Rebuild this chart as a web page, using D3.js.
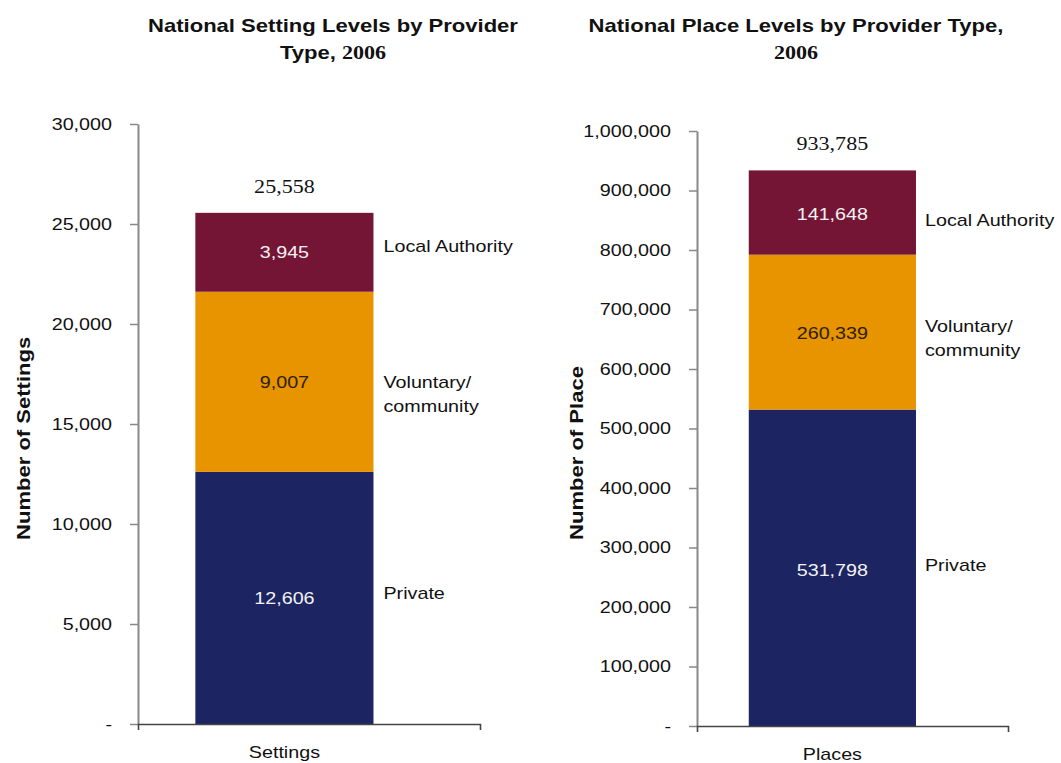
<!DOCTYPE html>
<html>
<head>
<meta charset="utf-8">
<script src="https://cdn.jsdelivr.net/npm/d3@7"></script>
<style>
  body { margin: 0; background: #fff; }
  text { font-family: "Liberation Sans", Arial, sans-serif; fill: #111; }
</style>
</head>
<body>
<script>
// data
var providerTypes = ["Private", "Voluntary/community", "Local Authority"];
var providerLabels = [["Private"], ["Voluntary/", "community"], ["Local Authority"]];
var settingsValues = [12606, 9007, 3945];
var placesValues = [531798, 260339, 141648];
var settingsTicks = [0, 5000, 10000, 15000, 20000, 25000, 30000];
var placesTicks = [0, 100000, 200000, 300000, 400000, 500000, 600000, 700000, 800000, 900000, 1000000];
var colors = ["#1c2461", "#e89300", "#741536"];
var valueColors = ["#f2f2f2", "#2a2100", "#f2f2f2"];

var S = 1.16; // the source text is drawn wider than Arial
var fmt = d3.format(",");

var svg = d3.select("body").append("svg")
    .attr("width", 1061)
    .attr("height", 763);

function drawChart(c){
  var g = svg.append("g");
  var y = d3.scaleLinear().domain([0, d3.max(c.ticks)]).range([c.bottom, c.top]);
  var x = d3.scaleBand().domain([c.category]).range([c.left, c.right])
      .paddingInner(0).paddingOuter(c.padOuter).align(c.align);
  var bw = x.bandwidth();
  var cx = x(c.category) + bw / 2;

  // title
  c.title.forEach(function(line, i){
    var t = g.append("text")
      .attr("x", c.titleX)
      .attr("y", 32 + i * 27)
      .attr("text-anchor", "middle")
      .style("font-weight", "bold")
      .style("font-size", "19px");
    var parts = line.split(/(2006)/).filter(function(p){ return p.length; });
    parts.forEach(function(p){
      var ts = t.append("tspan").text(p);
      if (p == "2006") ts.style("font-family", "'Liberation Serif', 'Times New Roman', serif");
    });
  });

  // y axis
  var ya = g.append("g")
    .attr("transform", "translate(" + c.left + ",0)")
    .call(d3.axisLeft(y).tickValues(c.ticks).tickSize(8).tickSizeOuter(0).tickPadding(18)
      .tickFormat(function(d){ return d === 0 ? "-" : fmt(d); }));
  ya.select(".domain").attr("stroke", "#888").attr("stroke-width", 2);
  ya.selectAll(".tick line").attr("stroke", "#888").attr("stroke-width", 1.5);
  ya.selectAll(".tick text").style("font-size", "17px").style("font-family", "'Liberation Sans', Arial, sans-serif").attr("fill", "#111");

  g.append("text")
    .attr("transform", "translate(" + c.ylabelX + ",540) rotate(-90)")
    .style("font-weight", "bold")
    .style("font-size", "19px")
    .text(c.ylabel);

  // stacked segments
  var base = 0;
  var segs = c.values.map(function(v, i){
    var s = {v: v, y0: base, y1: base + v, i: i};
    base += v;
    return s;
  });

  g.selectAll(".bar")
    .data(segs)
    .enter()
    .append("rect")
    .attr("class", "bar")
    .attr("x", x(c.category))
    .attr("y", function(d){ return y(d.y1); })
    .attr("width", bw)
    .attr("height", function(d){ return y(d.y0) - y(d.y1); })
    .attr("fill", function(d){ return colors[d.i]; });

  g.selectAll(".val")
    .data(segs)
    .enter()
    .append("text")
    .attr("class", "val")
    .attr("x", cx)
    .attr("y", function(d){ return (y(d.y0) + y(d.y1)) / 2 + c.valueDy[d.i]; })
    .attr("dy", "0.35em")
    .attr("text-anchor", "middle")
    .style("font-size", "17px")
    .style("fill", function(d){ return valueColors[d.i]; })
    .text(function(d){ return fmt(d.v); });

  // labels beside the bar
  g.selectAll(".lab")
    .data(segs)
    .enter()
    .append("text")
    .attr("class", "lab")
    .style("font-size", "17px")
    .each(function(d){
      var t = d3.select(this);
      var yy = (y(d.y0) + y(d.y1)) / 2 + c.legendDy[d.i];
      providerLabels[d.i].forEach(function(line, k){
        t.append("tspan")
          .attr("x", x(c.category) + bw + c.legendGap)
          .attr("y", yy + k * 24)
          .attr("dy", "0.35em")
          .text(line);
      });
    });

  // total above the bar
  var total = d3.sum(c.values);
  g.append("text")
    .attr("x", cx)
    .attr("y", y(total) - 20)
    .attr("text-anchor", "middle")
    .style("font-family", "'Liberation Serif', 'Times New Roman', serif")
    .style("font-size", "19px")
    .text(fmt(total));

  // x axis
  var xa = g.append("g")
    .attr("transform", "translate(0," + c.bottom + ")")
    .call(d3.axisBottom(x).tickSizeInner(0).tickSizeOuter(6).tickPadding(22));
  xa.select(".domain").attr("stroke", "#444").attr("stroke-width", 1.6);
  xa.selectAll(".tick text").style("font-size", "17px").style("font-family", "'Liberation Sans', Arial, sans-serif").attr("fill", "#111");
}

drawChart({
  title: ["National Setting Levels by Provider", "Type, 2006"],
  titleX: 333,
  ylabel: "Number of Settings",
  ylabelX: 30,
  category: "Settings",
  values: settingsValues,
  ticks: settingsTicks,
  left: 138, right: 480, top: 124, bottom: 724,
  padOuter: 0.46, align: 0.35,
  legendGap: 10,
  legendDy: [-5, 0, -6],
  valueDy: [0, 0, 0]
});

drawChart({
  title: ["National Place Levels by Provider Type,", "2006"],
  titleX: 796,
  ylabel: "Number of Place",
  ylabelX: 583,
  category: "Places",
  values: placesValues,
  ticks: placesTicks,
  left: 697, right: 1008, top: 131, bottom: 726,
  padOuter: 0.43, align: 0.36,
  legendGap: 9,
  legendDy: [-3, -6, 8],
  valueDy: [2, 1, 2]
});

// widen every text run to match the source glyph widths
function stretch(){
  var w = this.getComputedTextLength();
  if (w > 0) d3.select(this).attr("textLength", w * S).attr("lengthAdjust", "spacingAndGlyphs");
}
svg.selectAll("text").each(function(){
  if (this.querySelector("tspan")) d3.select(this).selectAll("tspan").each(stretch);
  else stretch.call(this);
});
</script>
</body>
</html>
